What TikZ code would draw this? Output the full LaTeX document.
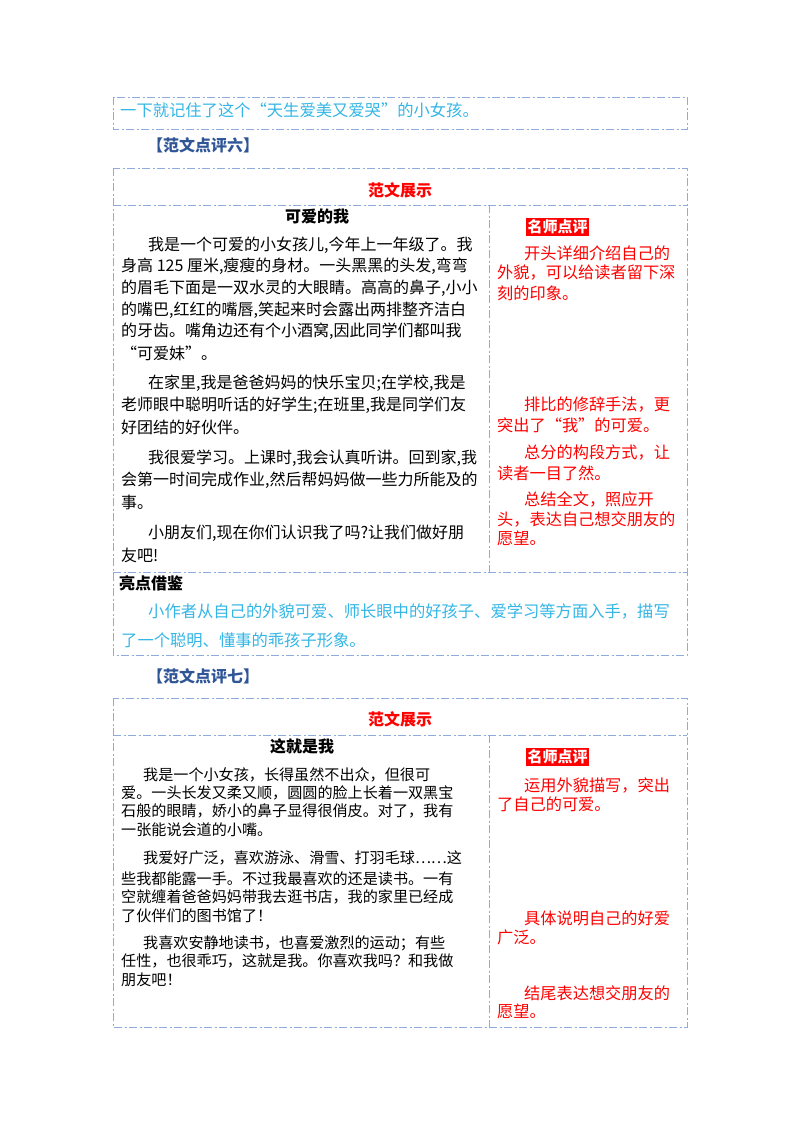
\documentclass[tikz,border=0pt]{standalone}
\usepackage{fontspec}
\setmainfont{Noto Sans CJK SC}
\definecolor{bline}{HTML}{8FAADC}
\definecolor{cyantext}{HTML}{33B5E5}
\definecolor{headblue}{HTML}{2F5597}
\definecolor{redc}{HTML}{FF0000}
\tikzset{
  frame/.style={draw=bline, line width=0.9pt, dash pattern=on 8pt off 2.5pt on 2pt off 2.5pt},
  ln/.style={anchor=west, inner sep=0, font=\fontsize{16}{16}\selectfont},
  kai/.style={anchor=west, inner sep=0, font=\fontsize{15.1}{15}\selectfont},
  cmt/.style={anchor=west, inner sep=0, text=redc, font=\fontsize{16.2}{16}\selectfont},
  cy/.style={anchor=west, inner sep=0, text=cyantext, font=\fontsize{16.3}{16}\selectfont},
  hd/.style={anchor=west, inner sep=0, text=headblue, font=\fontsize{16}{16}\selectfont\bfseries},
  ttl/.style={inner sep=0, text=redc, font=\fontsize{16}{16}\selectfont\bfseries},
  sub/.style={inner sep=0, font=\fontsize{16}{16}\selectfont\bfseries},
  tag/.style={anchor=west, inner sep=1.5pt, fill=redc, text=white, font=\fontsize{15}{16}\selectfont\bfseries}
}
\begin{document}
\begin{tikzpicture}[x=1pt,y=-1pt]
\useasboundingbox (0,0) rectangle (800,1132);
% top box
\draw[frame] (113,97) rectangle (687,129);
\node[cy] (t0) at (120,110) {一下就记住了这个“天生爱美又爱哭”的小女孩。};
% section 6
\node[hd] (h6) at (147,145) {【范文点评六】};
\draw[frame] (113,168) rectangle (687,655);
\draw[frame] (113,205) -- (687,205);
\draw[frame] (113,572) -- (687,572);
\draw[frame] (489,205) -- (489,572);
\node[ttl] (s6) at (400,190) {范文展示};
\node[sub] (k6) at (317,216) {可爱的我};
\node[ln] (a1) at (148,245) {我是一个可爱的小女孩儿,今年上一年级了。我};
\node[ln] (a2) at (121,266) {身高 125 厘米,瘦瘦的身材。一头黑黑的头发,弯弯};
\node[ln] (a3) at (121,288) {的眉毛下面是一双水灵的大眼睛。高高的鼻子,小小};
\node[ln] (a4) at (121,310) {的嘴巴,红红的嘴唇,笑起来时会露出两排整齐洁白};
\node[ln] (a5) at (121,331) {的牙齿。嘴角边还有个小酒窝,因此同学们都叫我};
\node[ln] (a6) at (121,353) {“可爱妹”。};
\node[ln] (b1) at (148,383) {在家里,我是爸爸妈妈的快乐宝贝;在学校,我是};
\node[ln] (b2) at (121,405) {老师眼中聪明听话的好学生;在班里,我是同学们友};
\node[ln] (b3) at (121,427) {好团结的好伙伴。};
\node[ln] (c1) at (148,458) {我很爱学习。上课时,我会认真听讲。回到家,我};
\node[ln] (c2) at (121,480) {会第一时间完成作业,然后帮妈妈做一些力所能及的};
\node[ln] (c3) at (121,502) {事。};
\node[ln] (g1) at (148,533) {小朋友们,现在你们认识我了吗?让我们做好朋};
\node[ln] (g2) at (121,555) {友吧!};
\node[tag] (m6) at (526,227) {名师点评};
\node[cmt] (r1) at (524,253) {开头详细介绍自己的};
\node[cmt] (r2) at (497,273) {外貌，可以给读者留下深};
\node[cmt] (r3) at (497,293) {刻的印象。};
\node[cmt] (r4) at (524,405) {排比的修辞手法，更};
\node[cmt] (r5) at (497,425) {突出了“我”的可爱。};
\node[cmt] (r6) at (524,453) {总分的构段方式，让};
\node[cmt] (r7) at (497,473) {读者一目了然。};
\node[cmt] (r8) at (524,499) {总结全文，照应开};
\node[cmt] (r9) at (497,519) {头，表达自己想交朋友的};
\node[cmt] (r10) at (497,538) {愿望。};
\node[sub, anchor=west] (l6) at (119,583) {亮点借鉴};
\node[cy] (y1) at (148,611) {小作者从自己的外貌可爱、师长眼中的好孩子、爱学习等方面入手，描写};
\node[cy] (y2) at (121,640) {了一个聪明、懂事的乖孩子形象。};
% section 7
\node[hd] (h7) at (147,676) {【范文点评七】};
\draw[frame] (113,698) rectangle (687,1027);
\draw[frame] (113,735) -- (687,735);
\draw[frame] (489,735) -- (489,1027);
\node[ttl] (s7) at (400,719) {范文展示};
\node[sub] (k7) at (302,746) {这就是我};
\node[kai] (d1) at (143,775) {我是一个小女孩，长得虽然不出众，但很可};
\node[kai] (d2) at (121,793) {爱。一头长发又柔又顺，圆圆的脸上长着一双黑宝};
\node[kai] (d3) at (121,811) {石般的眼睛，娇小的鼻子显得很俏皮。对了，我有};
\node[kai] (d4) at (121,830) {一张能说会道的小嘴。};
\node[kai] (e1) at (143,858) {我爱好广泛，喜欢游泳、滑雪、打羽毛球……这};
\node[kai] (e2) at (121,879) {些我都能露一手。不过我最喜欢的还是读书。一有};
\node[kai] (e3) at (121,897) {空就缠着爸爸妈妈带我去逛书店，我的家里已经成};
\node[kai] (e4) at (121,916) {了伙伴们的图书馆了！};
\node[kai] (f1) at (143,943) {我喜欢安静地读书，也喜爱激烈的运动；有些};
\node[kai] (f2) at (121,961) {任性，也很乖巧，这就是我。你喜欢我吗？和我做};
\node[kai] (f3) at (121,980) {朋友吧！};
\node[tag] (m7) at (526,757) {名师点评};
\node[cmt] (q1) at (524,785) {运用外貌描写，突出};
\node[cmt] (q2) at (497,804) {了自己的可爱。};
\node[cmt] (q3) at (524,918) {具体说明自己的好爱};
\node[cmt] (q4) at (497,937) {广泛。};
\node[cmt] (q5) at (524,993) {结尾表达想交朋友的};
\node[cmt] (q6) at (497,1011) {愿望。};
\end{tikzpicture}
\end{document}
